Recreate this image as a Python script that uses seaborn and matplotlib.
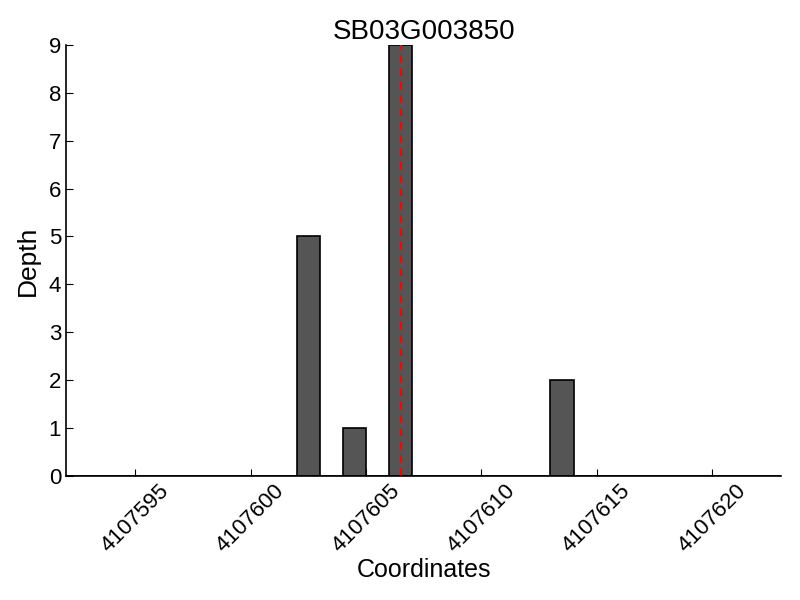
import matplotlib
matplotlib.use("Agg")
import matplotlib.pyplot as plt
import pandas as pd
import seaborn as sns

# depth per coordinate
gene = "SB03G003850"
coords = [4107602, 4107604, 4107606, 4107613]
depths = [5, 1, 9, 2]
snp_pos = 4107606
x_start, x_end = 4107592, 4107623
xticks = [4107595, 4107600, 4107605, 4107610, 4107615, 4107620]

df = pd.DataFrame({"pos": coords, "depth": depths})

sns.set_style("ticks")
plt.rcParams["font.family"] = ["Liberation Sans", "DejaVu Sans"]
plt.rcParams["xtick.direction"] = "in"
plt.rcParams["ytick.direction"] = "in"
plt.rcParams["text.color"] = "black"
plt.rcParams["axes.labelcolor"] = "black"
plt.rcParams["xtick.color"] = "black"
plt.rcParams["ytick.color"] = "black"

fig = plt.figure(figsize=(8, 6), dpi=100)
ax = fig.add_axes([0.0825, 0.207, 0.894, 0.718])

sns.histplot(data=df, x="pos", weights="depth", binwidth=1,
             binrange=(x_start, x_end),
             color="#555555", edgecolor="black", linewidth=1.2, alpha=1,
             ax=ax)
ax.axvline(snp_pos + 0.5, color="red", linestyle="--", dashes=(3.7, 2.7),
           linewidth=1.5)

ax.set_xlim(x_start, x_end)
ax.set_ylim(0, 9)
ax.set_xticks(xticks)
ax.set_xticklabels([str(t) for t in xticks], rotation=45, fontsize=16)
ax.set_yticks(range(10))
ax.tick_params(axis="y", labelsize=16, length=5, width=0.8)
ax.tick_params(axis="x", length=5, width=0.8)
for s in ["left", "bottom"]:
    ax.spines[s].set_color("black")
    ax.spines[s].set_linewidth(1.2)
sns.despine(ax=ax)

ax.set_title(gene, fontsize=20, pad=2)
ax.set_xlabel("Coordinates", fontsize=18, labelpad=1)
ax.set_ylabel("Depth", fontsize=19, labelpad=6)

fig.savefig("out.png", dpi=100)
